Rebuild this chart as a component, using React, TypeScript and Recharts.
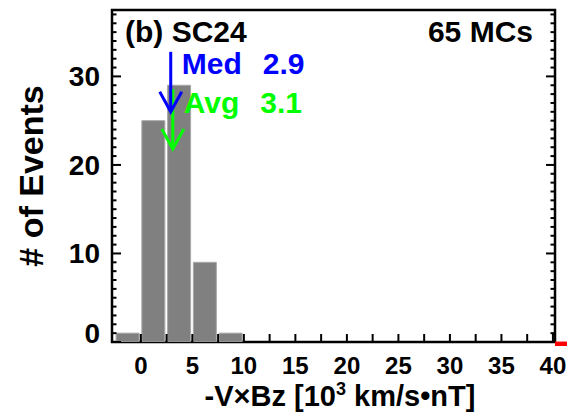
import React from 'react'
import { BarChart, Bar, XAxis, YAxis, ReferenceArea, ReferenceDot } from 'recharts'

// histogram bins (2.5 wide) and event counts
const binCenters = [-1.25, 1.25, 3.75, 6.25, 8.75]
const counts = [1, 25, 29, 9, 1]

const xTicks = [0, 2.5, 5, 7.5, 10, 12.5, 15, 17.5, 20, 22.5, 25, 27.5, 30, 32.5, 35, 37.5, 40]
const yMajor = [0, 10, 20, 30]
const yTicks = Array.from({ length: 38 }, (_, i) => i)

const xDomain = [-2.8, 40.2]
const yDomain = [0, 37.5]

const median = 2.9
const average = 3.1
const medianTip = 26
const averageTip = 21.8
const totalEvents = 65

const FONT = '"Liberation Sans", Arial, Helvetica, sans-serif'

const data = binCenters.map((x, i) => ({ x, n: counts[i] }))

// eslint-disable-next-line @typescript-eslint/no-explicit-any
const XTick = (props: any) => {
  const { x, y, payload } = props
  const v = payload.value
  return (
    <g>
      <line x1={x} y1={y} x2={x} y2={y - 8} stroke="#000" strokeWidth={2} />
      {v % 5 === 0 && (
        <text x={x} y={y + 32} textAnchor="middle" fontSize={24} fontWeight="bold" fontFamily={FONT} fill="#000">
          {v}
        </text>
      )}
    </g>
  )
}

// eslint-disable-next-line @typescript-eslint/no-explicit-any
const YTick = (props: any) => {
  const { x, y, payload } = props
  const v = payload.value
  const major = yMajor.includes(v)
  return (
    <g>
      <line x1={x} y1={y} x2={x + (major ? 9 : 4.5)} y2={y} stroke="#000" strokeWidth={2} />
      {major && (
        <text x={x - 12} y={v === 0 ? y + 1 : y + 10} textAnchor="end" fontSize={28} fontWeight="bold" fontFamily={FONT} fill="#000">
          {v}
        </text>
      )}
    </g>
  )
}

// inward ticks along the right edge of the box
const rightTick = (v: number) =>
  // eslint-disable-next-line @typescript-eslint/no-explicit-any
  (props: any) => {
    const { cx, cy } = props
    const len = yMajor.includes(v) ? 9 : 4.5
    return <line x1={cx} y1={cy} x2={cx - len} y2={cy} stroke="#000" strokeWidth={2} />
  }

// eslint-disable-next-line @typescript-eslint/no-explicit-any
const FrameBox = (props: any) => (
  <rect x={props.x} y={props.y} width={props.width} height={props.height} fill="none" stroke="#000" strokeWidth={2.5} />
)

const arrow = (color: string, name: string, value: number, textDy: number) =>
  // eslint-disable-next-line @typescript-eslint/no-explicit-any
  (props: any) => {
    const { cx, cy } = props
    return (
      <g>
        <line x1={cx} y1={cy - 60} x2={cx} y2={cy} stroke={color} strokeWidth={3} />
        <polyline points={`${cx - 11},${cy - 20} ${cx},${cy} ${cx + 11},${cy - 20}`} fill="none" stroke={color} strokeWidth={3} />
        <text x={cx + 11} y={cy - textDy} fontSize={30} fontWeight="bold" fontFamily={FONT} fill={color}>
          {name}
          <tspan dx={21}>{value.toFixed(1)}</tspan>
        </text>
      </g>
    )
  }

export default function App() {
  return (
    <div style={{ position: 'absolute', left: 0, top: 0, width: 567, height: 412, background: '#fff' }}>
      <BarChart width={567} height={412} data={data} margin={{ top: 10, right: 12, bottom: 0, left: 0 }}>
        <XAxis
          dataKey="x"
          type="number"
          domain={xDomain}
          ticks={xTicks}
          interval={0}
          allowDataOverflow
          axisLine={false}
          tickLine={false}
          tickSize={0}
          tickMargin={0}
          height={70}
          tick={<XTick />}
        />
        <YAxis
          type="number"
          domain={yDomain}
          ticks={yTicks}
          interval={0}
          allowDataOverflow
          axisLine={false}
          tickLine={false}
          tickSize={0}
          tickMargin={0}
          width={112}
          tick={<YTick />}
        />
        <Bar dataKey="n" fill="#808080" stroke="#a8a8a8" strokeWidth={1} barSize={23} isAnimationActive={false} />
        <ReferenceArea x1={xDomain[0]} x2={xDomain[1]} y1={yDomain[0]} y2={yDomain[1]} ifOverflow="visible" shape={<FrameBox />} />
        {yTicks.map((v) => (
          <ReferenceDot key={`rt-${v}`} x={xDomain[1]} y={v} ifOverflow="visible" shape={rightTick(v)} />
        ))}
        <ReferenceArea x1={40.2} x2={41.5} y1={-0.45} y2={0.05} fill="#ff0000" fillOpacity={1} stroke="none" ifOverflow="visible" />
        <ReferenceDot x={average} y={averageTip} ifOverflow="visible" shape={arrow('#00ff00', 'Avg', average, 36)} />
        <ReferenceDot x={median} y={medianTip} ifOverflow="visible" shape={arrow('#0000ff', 'Med', median, 38)} />
        <text x={125} y={42} fontSize={30} fontWeight="bold" fontFamily={FONT} fill="#000">(b) SC24</text>
        <text x={533} y={42} textAnchor="end" fontSize={30} fontWeight="bold" fontFamily={FONT} fill="#000">
          {totalEvents} MCs
        </text>
        <text x={340} y={406} textAnchor="middle" fontSize={29} fontWeight="bold" fontFamily={FONT} fill="#000">
          -V×Bz [10<tspan fontSize={18} dy={-11}>3</tspan><tspan dy={11}> km/s•nT]</tspan>
        </text>
        <text
          x={0}
          y={0}
          transform="translate(43,176) rotate(-90)"
          textAnchor="middle"
          fontSize={34}
          fontWeight="bold"
          fontFamily={FONT}
          fill="#000"
        >
          # of Events
        </text>
      </BarChart>
    </div>
  )
}
